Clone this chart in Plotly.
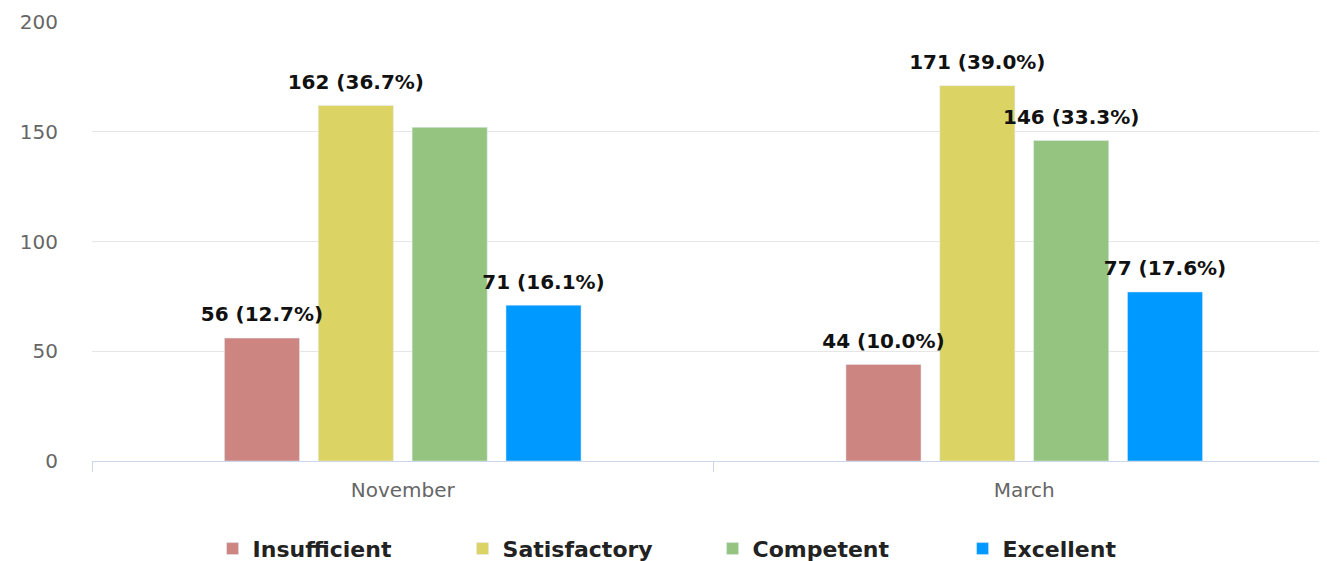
import plotly.graph_objects as go

months = ["November", "March"]
series = ["Insufficient", "Satisfactory", "Competent", "Excellent"]
values = {
    "Insufficient": [56, 44],
    "Satisfactory": [162, 171],
    "Competent": [152, 146],
    "Excellent": [71, 77],
}
# label text as shown; the November "Competent" label is hidden in the original
labels = {
    "Insufficient": ["56 (12.7%)", "44 (10.0%)"],
    "Satisfactory": ["162 (36.7%)", "171 (39.0%)"],
    "Competent": ["", "146 (33.3%)"],
    "Excellent": ["71 (16.1%)", "77 (17.6%)"],
}
colors = {
    "Insufficient": "#cc8580",
    "Satisfactory": "#dbd364",
    "Competent": "#94c47f",
    "Excellent": "#0099ff",
}

fig = go.Figure()
for s in series:
    fig.add_trace(go.Bar(
        x=months, y=values[s], name=s, marker_color=colors[s],
        offsetgroup=s, legendgroup=s, hoverinfo="x+y+name",
    ))
    # text above bars, via invisible markers so the label sits a bit higher
    fig.add_trace(go.Scatter(
        x=months, y=values[s], text=labels[s], mode="markers+text",
        offsetgroup=s, legendgroup=s, showlegend=False, hoverinfo="skip",
        marker=dict(size=17, opacity=0), textposition="top center",
        textfont=dict(family="DejaVu Sans", size=20, color="#111111", weight="bold"),
        cliponaxis=False,
    ))

# page body adds 8px on the left/top, so margins are trimmed by that much
fig.update_layout(
    width=1327, height=561,
    margin=dict(l=84, r=0, t=14, b=108),
    plot_bgcolor="white", paper_bgcolor="white",
    barmode="group", scattermode="group",
    bargap=0.396, bargroupgap=0.2,
    legend=dict(
        orientation="h", x=0.097, xanchor="left",
        yref="container", y=0.036, yanchor="middle",
        font=dict(family="DejaVu Sans", size=22, color="#222222", weight="bold"),
        entrywidth=205, entrywidthmode="pixels",
        itemclick=False,
    ),
    xaxis=dict(
        showline=True, linecolor="#ccd6eb", linewidth=1,
        ticks="outside", tickson="boundaries", ticklen=10, tickcolor="#ccd6eb",
        tickfont=dict(family="DejaVu Sans", size=20, color="#666666"),
        ticklabelstandoff=11, showgrid=False, automargin=False,
    ),
    yaxis=dict(
        range=[0, 200], dtick=50, showgrid=True, gridcolor="#e6e6e6",
        zeroline=False, showline=False,
        tickfont=dict(family="DejaVu Sans", size=20, color="#666666"),
        ticklabelstandoff=33, automargin=False,
    ),
)

fig.write_html("out.html")
